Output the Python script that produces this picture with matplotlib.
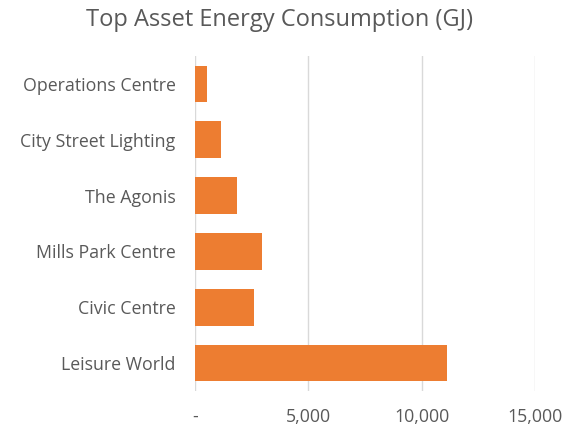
import matplotlib.pyplot as plt
from matplotlib.ticker import FuncFormatter

assets = ['Operations Centre', 'City Street Lighting', 'The Agonis',
          'Mills Park Centre', 'Civic Centre', 'Leisure World']
energy_gj = [540, 1150, 1850, 2950, 2600, 11100]
x_ticks = [0, 5000, 10000, 15000]

text_color = '#595959'
plt.rcParams['font.family'] = ['Open Sans', 'DejaVu Sans']

fig = plt.figure(figsize=(5.71, 4.32), dpi=100)
ax = fig.add_axes([0.3415, 0.095, 0.5955, 0.775])

ypos = list(range(len(assets)))[::-1]
ax.barh(ypos, energy_gj, height=0.66, color='#ED7D31', zorder=3)
ax.set_yticks(ypos)
ax.set_yticklabels(assets)
ax.set_ylim(-0.5, len(assets) - 0.5)

ax.set_xlim(0, 15000)
ax.set_xticks(x_ticks)
ax.xaxis.set_major_formatter(FuncFormatter(lambda v, p: '-' if v == 0 else f'{int(v):,}'))
ax.grid(axis='x', color='#D9D9D9', linewidth=1, zorder=0)

for s in ax.spines.values():
    s.set_visible(False)
ax.tick_params(length=0, labelsize=12.8, colors=text_color)
ax.tick_params(axis='y', pad=14)
ax.tick_params(axis='x', pad=12)

fig.text(0.49, 0.953, 'Top Asset Energy Consumption (GJ)', ha='center', va='center',
         fontsize=17, color=text_color)

fig.savefig('out.png', dpi=100)
